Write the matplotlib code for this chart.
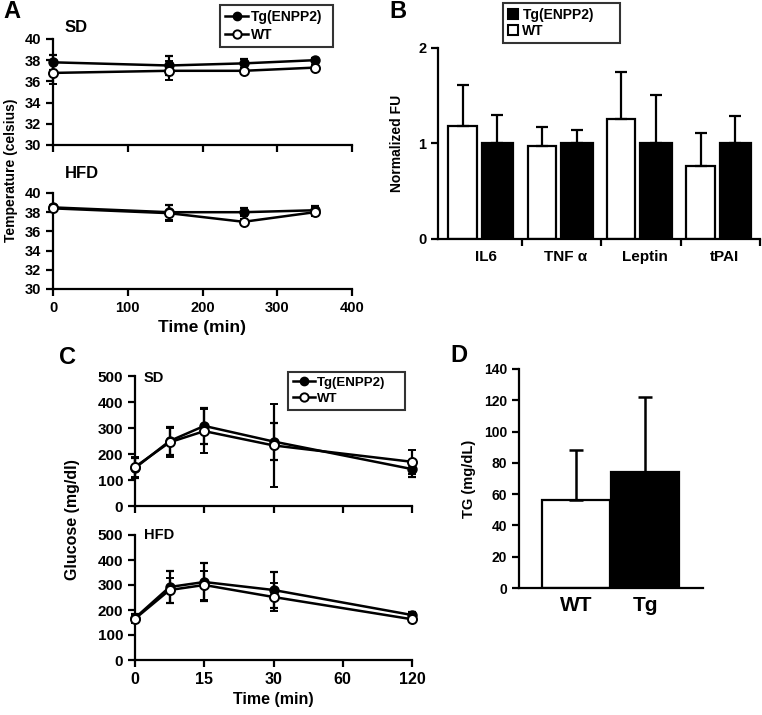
import matplotlib
matplotlib.use("Agg")
import matplotlib.pyplot as plt
from matplotlib.lines import Line2D
from matplotlib.patches import Patch
import numpy as np

plt.rcParams['font.family'] = ['Liberation Sans', 'DejaVu Sans']
plt.rcParams['font.weight'] = 'bold'
plt.rcParams['axes.linewidth'] = 1.6
plt.rcParams['xtick.major.width'] = 1.6
plt.rcParams['ytick.major.width'] = 1.6
plt.rcParams['xtick.major.size'] = 5
plt.rcParams['ytick.major.size'] = 5

W, H = 762, 715

# panel A: body temperature
temp_time = [0, 155, 255, 350]
temp_sd_tg = [37.8, 37.5, 37.7, 38.0]
temp_sd_tg_err = [0.7, 0.9, 0.4, 0.2]
temp_sd_wt = [36.8, 37.0, 37.0, 37.3]
temp_sd_wt_err = [1.0, 0.9, 0.3, 0.2]
temp_hfd_tg = [38.5, 38.0, 38.0, 38.2]
temp_hfd_tg_err = [0.3, 0.8, 0.4, 0.4]
temp_hfd_wt = [38.4, 37.9, 37.0, 38.0]
temp_hfd_wt_err = [0.3, 0.8, 0.3, 0.4]

# panel B: normalized FU
cytokines = ['IL6', 'TNF α', 'Leptin', 'tPAI']
fu_wt = [1.18, 0.97, 1.26, 0.76]
fu_wt_err = [0.43, 0.20, 0.49, 0.35]
fu_tg = [1.0, 1.0, 1.0, 1.0]
fu_tg_err = [0.30, 0.14, 0.51, 0.29]

# panel C: glucose tolerance
glu_time = [0, 7.5, 15, 30, 120]
glu_ticks = [0, 15, 30, 60, 120]
glu_sd_tg = [146, 250, 308, 248, 142]
glu_sd_tg_err = [40, 55, 68, 70, 30]
glu_sd_wt = [150, 245, 288, 233, 170]
glu_sd_wt_err = [38, 55, 85, 160, 45]
glu_hfd_tg = [168, 292, 312, 280, 180]
glu_hfd_tg_err = [15, 65, 75, 72, 12]
glu_hfd_wt = [165, 280, 300, 252, 163]
glu_hfd_wt_err = [15, 50, 58, 55, 12]

# panel D: triglycerides
tg_groups = ['WT', 'Tg']
tg_values = [56, 74]
tg_err = [32, 48]


def box(x0, y0, x1, y1):
    return [x0 / W, 1 - y1 / H, (x1 - x0) / W, (y1 - y0) / H]


def fbox(x0, y0, x1, y1):
    # legend anchor box in figure fraction
    return (x0 / W, 1 - y1 / H, (x1 - x0) / W, (y1 - y0) / H)


def clean(ax):
    ax.spines['top'].set_visible(False)
    ax.spines['right'].set_visible(False)
    ax.tick_params(direction='out')


def lines(ax, x, tg, tg_err, wt, wt_err):
    ax.errorbar(x, tg, yerr=tg_err, color='black', lw=1.8, marker='o', ms=6.5,
                mfc='black', mec='black', capsize=3, capthick=1.6, elinewidth=1.6,
                clip_on=False, zorder=3)
    ax.errorbar(x, wt, yerr=wt_err, color='black', lw=1.8, marker='o', ms=6.5,
                mfc='white', mec='black', mew=1.4, capsize=3, capthick=1.6,
                elinewidth=1.6, clip_on=False, zorder=4)


line_handles = [
    Line2D([], [], color='black', lw=1.8, marker='o', ms=6, mfc='black', mec='black'),
    Line2D([], [], color='black', lw=1.8, marker='o', ms=6, mfc='white', mec='black', mew=1.4),
]
line_labels = ['Tg(ENPP2)', 'WT']


def line_legend(ax, anchor, size):
    leg = ax.legend(line_handles, line_labels, loc='upper left', mode='expand',
                    bbox_to_anchor=anchor, bbox_transform=fig.transFigure,
                    fontsize=size, frameon=True, fancybox=False, edgecolor='black',
                    handlelength=1.7, handletextpad=0.15, borderpad=0.35,
                    labelspacing=0.3, borderaxespad=0)
    leg.get_frame().set_linewidth(1.5)
    return leg


fig = plt.figure(figsize=(W / 100, H / 100), dpi=100)

# ---- A ----
axA1 = fig.add_axes(box(53, 39, 352, 145))
axA2 = fig.add_axes(box(53, 193, 352, 289))
lines(axA1, temp_time, temp_sd_tg, temp_sd_tg_err, temp_sd_wt, temp_sd_wt_err)
lines(axA2, temp_time, temp_hfd_tg, temp_hfd_tg_err, temp_hfd_wt, temp_hfd_wt_err)
for ax in (axA1, axA2):
    clean(ax)
    ax.set_xlim(0, 400)
    ax.set_ylim(30, 40)
    ax.set_yticks(range(30, 41, 2))
    ax.set_xticks(range(0, 401, 100))
    ax.tick_params(labelsize=10.5)
axA1.set_xticklabels([])
axA2.set_xlabel('Time (min)', fontsize=12.5, fontweight='bold', labelpad=4)
fig.text(11 / W, 1 - 170 / H, 'Temperature (celsius)', rotation=90, ha='center',
         va='center', fontsize=10, fontweight='bold')
fig.text(65 / W, 1 - 27 / H, 'SD', fontsize=12, fontweight='bold', va='center')
fig.text(65 / W, 1 - 173 / H, 'HFD', fontsize=12, fontweight='bold', va='center')
fig.text(3 / W, 1 - 12 / H, 'A', fontsize=17, fontweight='bold', va='center')
line_legend(axA1, fbox(220, 5, 333, 48), 10)

# ---- B ----
axB = fig.add_axes(box(438, 48, 760, 239))
clean(axB)
xb = np.arange(len(cytokines))
axB.bar(xb + 0.25, fu_wt, width=0.36, color='white', edgecolor='black', lw=1.6,
        yerr=[np.zeros(len(fu_wt)), fu_wt_err], capsize=4,
        error_kw=dict(elinewidth=1.6, capthick=1.6))
axB.bar(xb + 0.69, fu_tg, width=0.40, color='black', edgecolor='black', lw=1.6,
        yerr=[np.zeros(len(fu_tg)), fu_tg_err], capsize=4,
        error_kw=dict(elinewidth=1.6, capthick=1.6))
axB.set_xlim(-0.06, 4)
axB.set_ylim(0, 2)
axB.set_yticks([0, 1, 2])
axB.set_xticks([1, 2, 3, 4])
axB.set_xticklabels([])
axB.set_xticks(xb + 0.55, minor=True)
axB.set_xticklabels(cytokines, minor=True, fontsize=11, fontweight='bold')
axB.tick_params(axis='x', which='minor', length=0, pad=8)
axB.tick_params(axis='y', labelsize=10.5)
axB.set_ylabel('Normalized FU', fontsize=10, fontweight='bold', labelpad=10)
fig.text(389 / W, 1 - 12 / H, 'B', fontsize=17, fontweight='bold', va='center')
bar_handles = [Patch(facecolor='black', edgecolor='black', lw=1.5),
               Patch(facecolor='white', edgecolor='black', lw=1.5)]
legB = axB.legend(bar_handles, line_labels, loc='upper left', mode='expand',
                  bbox_to_anchor=fbox(503, 3, 620, 43),
                  bbox_transform=fig.transFigure, fontsize=10, frameon=True,
                  fancybox=False, edgecolor='black', handlelength=0.75,
                  handleheight=0.75, handletextpad=0.3, borderpad=0.35,
                  labelspacing=0.15, borderaxespad=0)
legB.get_frame().set_linewidth(1.5)

# ---- C ----
def fwd(t):
    return np.interp(t, glu_ticks, np.arange(len(glu_ticks)))


def inv(p):
    return np.interp(p, np.arange(len(glu_ticks)), glu_ticks)


axC1 = fig.add_axes(box(135, 376, 412, 506))
axC2 = fig.add_axes(box(135, 535, 412, 660))
lines(axC1, glu_time, glu_sd_tg, glu_sd_tg_err, glu_sd_wt, glu_sd_wt_err)
lines(axC2, glu_time, glu_hfd_tg, glu_hfd_tg_err, glu_hfd_wt, glu_hfd_wt_err)
for ax in (axC1, axC2):
    clean(ax)
    ax.set_xscale('function', functions=(fwd, inv))
    ax.set_xlim(0, 120)
    ax.set_ylim(0, 500)
    ax.set_yticks(range(0, 501, 100))
    ax.set_xticks(glu_ticks)
    ax.tick_params(labelsize=11)
    ax.xaxis.set_minor_locator(matplotlib.ticker.NullLocator())
axC1.set_xticklabels([])
axC2.set_xticklabels([str(t) for t in glu_ticks], fontsize=11.5)
axC2.set_xlabel('Time (min)', fontsize=11.5, fontweight='bold', labelpad=4)
fig.text(72 / W, 1 - 520 / H, 'Glucose (mg/dl)', rotation=90, ha='center',
         va='center', fontsize=11.5, fontweight='bold')
fig.text(144 / W, 1 - 378 / H, 'SD', fontsize=10.5, fontweight='bold', va='center')
fig.text(144 / W, 1 - 535 / H, 'HFD', fontsize=10.5, fontweight='bold', va='center')
fig.text(59 / W, 1 - 357 / H, 'C', fontsize=17, fontweight='bold', va='center')
line_legend(axC1, fbox(288, 372, 405, 420), 9.5)

# ---- D ----
axD = fig.add_axes(box(519, 369, 703, 588))
clean(axD)
axD.bar([0, 1], tg_values, width=0.98, color=['white', 'black'], edgecolor='black',
        lw=1.6, yerr=[[0, 0], tg_err], capsize=5,
        error_kw=dict(elinewidth=1.8, capthick=1.8))
axD.set_xlim(-0.83, 1.84)
axD.set_ylim(0, 140)
axD.set_yticks(range(0, 141, 20))
axD.set_xticks([0, 1])
axD.set_xticklabels(tg_groups, fontsize=15, fontweight='bold')
axD.tick_params(axis='x', length=0, pad=6)
axD.tick_params(axis='y', labelsize=10)
axD.set_ylabel('TG (mg/dL)', fontsize=10.5, fontweight='bold', labelpad=6)
fig.text(450 / W, 1 - 356 / H, 'D', fontsize=17, fontweight='bold', va='center')

fig.savefig('out.png', dpi=100)
